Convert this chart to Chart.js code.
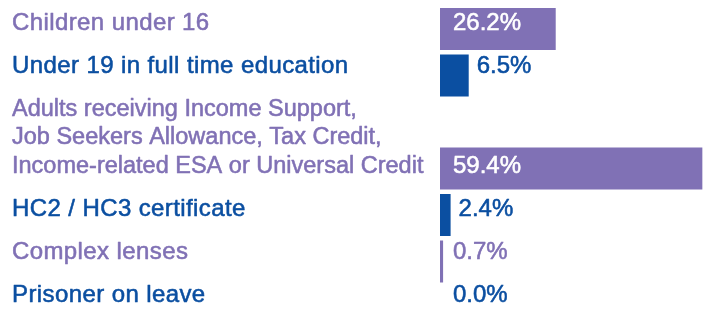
<!DOCTYPE html>
<html>
<head>
<meta charset="utf-8">
<script src="https://cdn.jsdelivr.net/npm/chart.js@4/dist/chart.umd.min.js"></script>
<style>
  html, body { margin: 0; padding: 0; background: #ffffff; overflow: hidden; }
  #c { display: block; }
</style>
</head>
<body>
<canvas id="c" width="710" height="311"></canvas>
<script>
// ---- data ----
const categories = [
  'Children under 16',
  'Under 19 in full time education',
  ['Adults receiving Income Support,', 'Job Seekers Allowance, Tax Credit,', 'Income-related ESA or Universal Credit'],
  'HC2 / HC3 certificate',
  'Complex lenses',
  'Prisoner on leave'
];
const values = [26.2, 6.5, 59.4, 2.4, 0.7, 0.0];
const valueLabels = ['26.2%', '6.5%', '59.4%', '2.4%', '0.7%', '0.0%'];

// ---- styles ----
const PURPLE = '#8071b5';
const BLUE = '#0b4fa1';
const rowColors = values.map((v, i) => (i % 2 === 0 ? PURPLE : BLUE));
const FONT = '24px "Liberation Sans", Arial, sans-serif';
const FONT_MULTI = '23.5px "Liberation Sans", Arial, sans-serif';
const LINE_H = 28.5;
const TEXT_PITCH = 43;

// row slot: a multi-line label takes extra room above its bar
const rowPos = [];
categories.forEach((lab, i) => {
  const lines = Array.isArray(lab) ? lab.length : 1;
  const prev = i === 0 ? 0 : rowPos[i - 1] + 1;
  rowPos.push(prev + (lines - 1) / 2);
});

const labelPlugin = {
  id: 'rowLabels',
  afterDatasetsDraw(chart) {
    const ctx = chart.ctx;
    const meta = chart.getDatasetMeta(0);
    const hasLS = 'letterSpacing' in ctx;
    ctx.save();
    ctx.textBaseline = 'alphabetic';
    ctx.textAlign = 'left';
    ctx.lineJoin = 'round';
    ctx.lineWidth = 0.55;
    const first = meta.data[0].y + 0.5;
    let extra = 0;
    meta.data.forEach((bar, i) => {
      const lab = categories[i];
      const lines = Array.isArray(lab) ? lab : [lab];
      const n = lines.length;
      const bottom = first + TEXT_PITCH * i + extra + (n - 1) * LINE_H;
      extra += (n - 1) * LINE_H;
      // category label
      ctx.font = n > 1 ? FONT_MULTI : FONT;
      if (hasLS) ctx.letterSpacing = n > 1 ? '0px' : '0.4px';
      ctx.fillStyle = rowColors[i];
      ctx.strokeStyle = rowColors[i];
      lines.forEach((t, j) => {
        const y = bottom - (n - 1 - j) * LINE_H;
        ctx.fillText(t, 12, y);
        ctx.strokeText(t, 12, y);
      });
      // value label
      ctx.font = FONT;
      if (hasLS) ctx.letterSpacing = '0px';
      const txt = valueLabels[i];
      const tw = ctx.measureText(txt).width;
      const bw = bar.x - bar.base;
      let x, col;
      if (bw > tw + 26) {
        x = bar.base + 13; col = '#ffffff';
      } else {
        x = Math.max(bar.base + 13, bar.x + 8); col = rowColors[i];
      }
      ctx.fillStyle = col;
      ctx.strokeStyle = col;
      ctx.fillText(txt, x, bottom);
      ctx.strokeText(txt, x, bottom);
    });
    ctx.restore();
  }
};

new Chart(document.getElementById('c'), {
  type: 'bar',
  data: {
    datasets: [{
      data: values.map((v, i) => ({ x: v, y: rowPos[i] })),
      backgroundColor: rowColors,
      borderWidth: 0,
      inflateAmount: 0,
      barThickness: 42,
      clip: false
    }]
  },
  options: {
    indexAxis: 'y',
    responsive: false,
    devicePixelRatio: 1,
    animation: false,
    layout: { padding: { left: 440, right: 5, top: 29, bottom: 3 } },
    plugins: { legend: { display: false }, tooltip: { enabled: false } },
    scales: {
      x: { type: 'linear', min: 0, max: 60, display: false },
      y: { type: 'linear', min: 0, max: 6, reverse: true, offset: false, display: false }
    }
  },
  plugins: [labelPlugin]
});
</script>
</body>
</html>
